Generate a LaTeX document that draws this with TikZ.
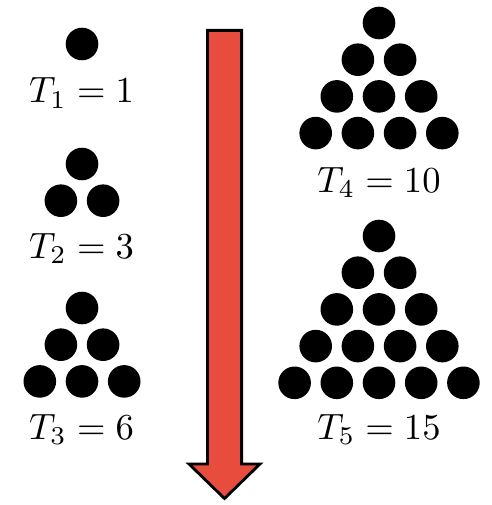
\documentclass[tikz,border=0pt]{standalone}
\usepackage{amsmath}
\usepackage{xcolor}
\usepackage{tikz}
\definecolor{arrowred}{HTML}{E74C3C}
\tikzset{
  tlabel/.style={font=\normalsize,anchor=base,inner sep=0pt,scale=3.66,transform shape},
  bigarrow/.style={fill=arrowred,draw=black,line width=2.8pt,line join=miter}
}

\begin{document}
\begin{tikzpicture}[x=1pt,y=-1pt]
      \useasboundingbox (0,0) rectangle (491,505);
      % triangles of dots: centre x / top y / rows
      \foreach \cx/\ty/\n in {82/44/1,82/164/2,82/308/3,379/23/4,379/236/5} {
        \foreach \i in {1,...,\n} {
          \foreach \j in {1,...,\i} {
            \fill ({\cx+(\j-(\i+1)/2)*42.2},{\ty+(\i-1)*36.7}) circle (16.3pt);
          }
        }
      }
      \node[tlabel] (t1) at (81.5,103) {$T_1=1$};
      \node[tlabel] (t2) at (81.5,258) {$T_2=3$};
      \node[tlabel] (t3) at (81.5,439) {$T_3=6$};
      \node[tlabel] (t4) at (379,192) {$T_4=10$};
      \node[tlabel] (t5) at (379,439) {$T_5=15$};
      \draw[bigarrow] (207.4,30.4) -- (241.6,30.4) -- (241.6,464) -- (260,464)
        -- (224.5,498.5) -- (189,464) -- (207.4,464) -- cycle;
    \end{tikzpicture}
\end{document}
